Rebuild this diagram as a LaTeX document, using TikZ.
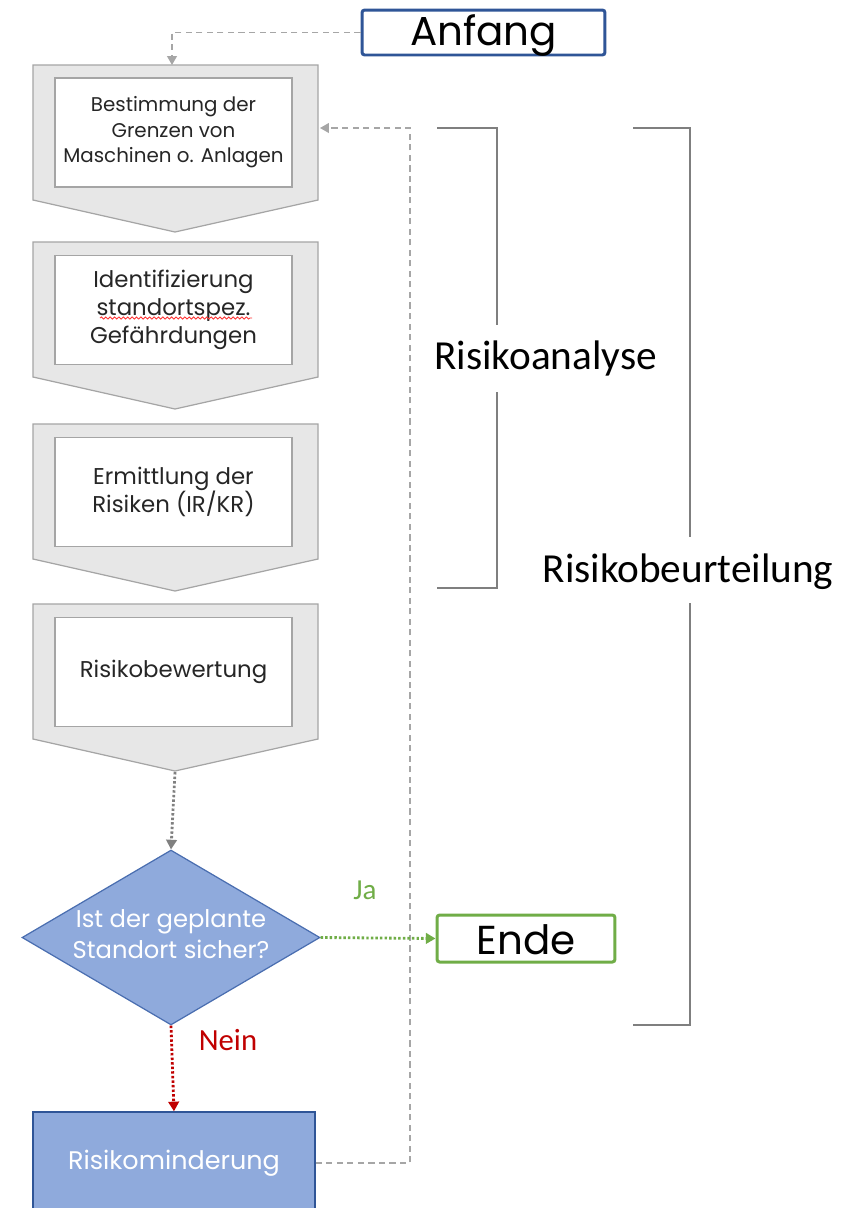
\documentclass[tikz,border=0pt]{standalone}
\usepackage{fontspec}
\setmainfont{Poppins}
\newfontfamily\calib{Carlito}
\usetikzlibrary{shapes.geometric,arrows.meta,decorations.pathmorphing}
\definecolor{chevfill}{HTML}{E7E7E7}
\definecolor{chevline}{HTML}{A5A5A5}
\definecolor{bluefill}{HTML}{8FAADC}
\definecolor{blueline}{HTML}{4A6EB0}
\definecolor{darkblue}{HTML}{2F5597}
\definecolor{okgreen}{HTML}{70AD47}
\definecolor{nored}{HTML}{C00000}
\definecolor{dashgray}{HTML}{A6A6A6}
\definecolor{bracketgray}{HTML}{7F7F7F}
\tikzset{
  chevshape/.style={fill=chevfill, draw=chevline, line width=0.7pt},
  innerbox/.style={draw=chevline, fill=white, line width=1.1pt, minimum width=4.74cm, minimum height=2.18cm, align=center, inner sep=0pt, font=\fontsize{13}{16}\selectfont, text=black!85},
  dashconn/.style={draw=dashgray, line width=0.8pt, dash pattern=on 3.5pt off 2.5pt, -{Triangle[length=5pt,width=5.5pt]}},
  dotconn/.style={line width=1.6pt, dash pattern=on 1.4pt off 1.2pt, -{Triangle[length=5.5pt,width=6pt]}},
  bracket/.style={draw=bracketgray, line width=1.6pt},
  bigtext/.style={font=\calib\fontsize{23.5}{27}\selectfont, text=black},
  termbox/.style={line width=1.7pt, fill=white, rounded corners=1.5pt, inner sep=0pt},
  termtext/.style={font=\fontsize{23}{27}\selectfont, inner sep=0pt}
}
\begin{document}
\begin{tikzpicture}[x=0.02cm, y=-0.02cm]
\useasboundingbox (0,0) rectangle (848,1208);
% chevrons
\foreach \t in {65,242,424,604}{
  \path[chevshape] (33,\t) -- (318,\t) -- (318,\t+135) -- (175,\t+167) -- (33,\t+135) -- cycle;
}
\node[innerbox, font=\fontsize{11.3}{14.5}\selectfont] (b1) at (173.5,132.5) {Bestimmung der\\Grenzen von\\Maschinen o. Anlagen};
\node[innerbox] (b2) at (173.5,310) {Identifizierung\\standortspez.\\Gef\"ahrdungen};
\node[innerbox] (b3) at (173.5,492) {Ermittlung der\\Risiken (IR/KR)};
\node[innerbox] (b4) at (173.5,672) {Risikobewertung};
\draw[red!80, line width=0.5pt, decorate, decoration={snake, amplitude=0.6pt, segment length=2.5pt}] (100,318) -- (252,318);
\coordinate (c1top) at (172,65);
\coordinate (c1r) at (320,128);
\coordinate (c4pt) at (175,772);
% start/end
\node[termbox, draw=darkblue, minimum width=4.86cm, minimum height=0.9cm] (anf) at (483.5,32.5) {};
\node[termtext] (anft) at (483.5,36) {Anfang};
\node[termbox, draw=okgreen, minimum width=3.56cm, minimum height=0.94cm] (ende) at (526,938.5) {};
\node[termtext] (endet) at (526,940) {Ende};
% decision
\node[diamond, fill=bluefill, draw=blueline, line width=0.7pt, minimum width=5.96cm, minimum height=3.5cm, inner sep=0pt] (dia) at (171,937.5) {};
\node[align=center, text=white, font=\fontsize{13.8}{18}\selectfont] (diat) at (171,934) {Ist der geplante\\Standort sicher?};
% risk reduction
\node[rectangle, fill=bluefill, draw=darkblue, line width=0.8pt, minimum width=5.64cm, minimum height=2.04cm, text=white, font=\fontsize{14.5}{17}\selectfont] (rm) at (174,1163) {Risikominderung};
% connectors
\coordinate (fbx) at (410,128);
\draw[dashconn] (anf.west) -| (c1top);
\draw[dashconn] (rm.east) -| (fbx) -- (c1r);
\draw[dotconn, draw=gray, color=gray] (c4pt) -- (dia.north);
\draw[dotconn, draw=okgreen, color=okgreen] (dia.east) -- (ende.west);
\draw[dotconn, draw=nored, color=nored] (dia.south) -- (rm.north);
\node[font=\calib\fontsize{16.5}{19}\selectfont, text=okgreen] (ja) at (365,890) {Ja};
\node[font=\calib\fontsize{17.5}{20}\selectfont, text=nored] (nein) at (228,1040) {Nein};
% brackets
\draw[bracket] (437,128) -- (497,128) -- (497,325);
\draw[bracket] (497,392) -- (497,588) -- (437,588);
\node[bigtext, anchor=west, inner sep=0pt] (ra) at (434,358) {Risikoanalyse};
\draw[bracket] (633,128) -- (690,128) -- (690,537);
\draw[bracket] (690,603) -- (690,1025) -- (633,1025);
\node[bigtext, inner sep=0pt] (rb) at (688,572) {Risikobeurteilung};
\end{tikzpicture}
\end{document}
